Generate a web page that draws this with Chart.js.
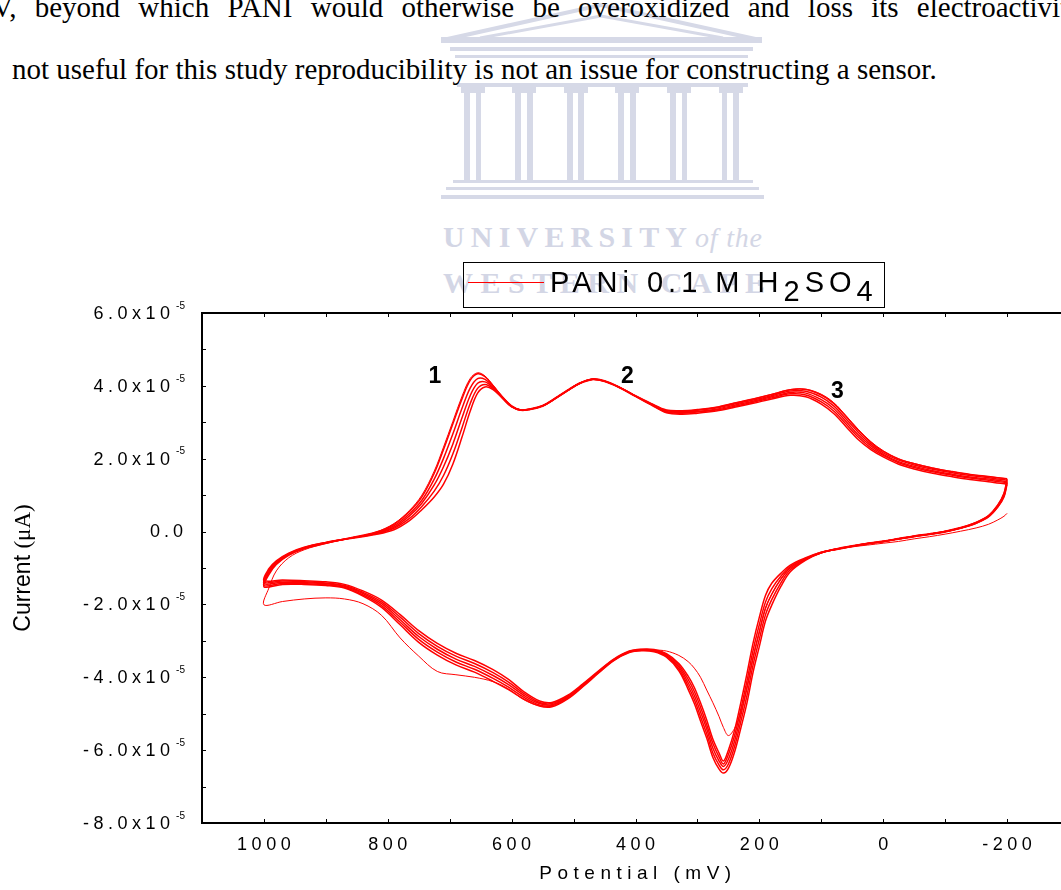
<!DOCTYPE html>
<html>
<head>
<meta charset="utf-8">
<script src="https://cdn.jsdelivr.net/npm/chart.js@4/dist/chart.umd.min.js"></script>
<style>
  html, body { margin: 0; padding: 0; background: #fff; overflow: hidden; }
  #page { position: relative; width: 1061px; height: 890px; overflow: hidden; }
  #crest, #cv { position: absolute; left: 0; top: 0; }
  #legend {
    position: absolute; left: 463px; top: 262px; width: 422px; height: 46px;
    border: 1px solid #000; box-sizing: border-box;
    font-family: "Liberation Sans", Arial, sans-serif; font-size: 29px; letter-spacing: 5px;
    white-space: nowrap;
  }
  #legend .swatch { position: absolute; left: 4px; top: 19px; width: 76px; height: 1px; background: #ff0000; }
  #legend .label { position: absolute; left: 86px; top: 3px; line-height: 32px; }
  #legend .sub { position: relative; top: 9px; }
</style>
</head>
<body>
<div id="page">
  <svg id="crest" width="1061" height="320" viewBox="0 0 1061 320">
    <g fill="none" stroke="#d6d9e7" stroke-width="4">
      <polyline points="443,40 601,5 760,40"/>
      <polyline points="480,38 601,16 723,38" stroke-width="3"/>
    </g>
    <g fill="#d6d9e7">
      <rect x="441" y="37" width="321" height="6"/>
      <rect x="450" y="47" width="303" height="4"/>
      <rect x="455" y="55" width="293" height="3"/>
      <rect x="457" y="83" width="291" height="4"/>
      <rect x="461" y="87" width="24" height="6"/>
      <rect x="512" y="87" width="24" height="6"/>
      <rect x="564" y="87" width="24" height="6"/>
      <rect x="615" y="87" width="24" height="6"/>
      <rect x="667" y="87" width="24" height="6"/>
      <rect x="719" y="87" width="24" height="6"/>
      <rect x="464" y="93" width="6" height="87"/><rect x="476" y="93" width="5" height="87"/>
      <rect x="515" y="93" width="6" height="87"/><rect x="527" y="93" width="6" height="87"/>
      <rect x="567" y="93" width="6" height="87"/><rect x="578" y="93" width="6" height="87"/>
      <rect x="618" y="93" width="6" height="87"/><rect x="630" y="93" width="6" height="87"/>
      <rect x="670" y="93" width="6" height="87"/><rect x="682" y="93" width="5" height="87"/>
      <rect x="722" y="93" width="5" height="87"/><rect x="733" y="93" width="6" height="87"/>
      <rect x="453" y="180" width="300" height="3"/>
      <rect x="446" y="187" width="313" height="3"/>
      <rect x="441" y="195" width="323" height="4"/>
    </g>
    <g fill="#d3d6e5" font-family="Liberation Serif, serif">
      <text x="443" y="247" font-size="30" font-weight="bold" textLength="244" lengthAdjust="spacing">UNIVERSITY</text>
      <text x="695" y="247" font-size="28" font-style="italic" textLength="67" lengthAdjust="spacing">of the</text>
      <text x="443" y="293" font-size="30" font-weight="bold" textLength="322" lengthAdjust="spacing">WESTERN CAPE</text>
    </g>
    <g fill="#000" font-family="Liberation Serif, serif" font-size="29">
      <text x="-8" y="17" word-spacing="11">V, beyond which PANI would otherwise be overoxidized and loss its electroactivity</text>
      <text x="12" y="79">not useful for this study reproducibility is not an issue for constructing a sensor.</text>
    </g>
  </svg>
  <canvas id="cv" width="1120" height="890"></canvas>
  <div id="legend">
    <div class="swatch"></div>
    <div class="label">PANi 0.1 M H<span class="sub">2</span>SO<span class="sub">4</span></div>
  </div>
</div>
<script>
// potential grids (mV): forward sweep -200 -> 1000, reverse sweep 1000 -> -200
var forwardPotential = [-200, -195, -185, -170, -150, -125, -100, -75, -50, -25, 0, 25, 50, 75, 100, 125, 150, 165, 180, 190, 200, 210, 220, 230, 240, 250, 258, 265, 275, 285, 295, 305, 315, 330, 350, 370, 390, 410, 435, 460, 485, 510, 535, 555, 580, 605, 630, 660, 690, 720, 750, 780, 810, 840, 870, 900, 935, 970, 1000];
var reversePotential = [1000, 992, 980, 960, 935, 900, 860, 820, 790, 765, 745, 725, 710, 695, 680, 667, 655, 643, 630, 615, 600, 585, 570, 550, 530, 510, 490, 470, 450, 425, 400, 375, 350, 325, 300, 270, 240, 210, 180, 150, 125, 100, 80, 60, 40, 20, 0, -25, -50, -80, -110, -140, -170, -200];

// current in units of 1e-5 A, one pair of arrays per cycle
var cycle1Forward = [0.50, 0.42, 0.32, 0.20, 0.10, 0.01, -0.07, -0.14, -0.20, -0.27, -0.32, -0.37, -0.42, -0.49, -0.59, -0.75, -1.00, -1.30, -1.72, -2.10, -2.75, -3.45, -4.25, -4.95, -5.40, -5.60, -5.38, -5.08, -4.70, -4.35, -4.00, -3.75, -3.57, -3.40, -3.28, -3.25, -3.25, -3.30, -3.52, -3.86, -4.22, -4.55, -4.76, -4.78, -4.62, -4.32, -4.12, -4.00, -3.93, -3.84, -3.42, -2.92, -2.30, -1.98, -1.85, -1.82, -1.85, -1.92, -2.01];
var cycle1Reverse = [-2.01, -1.55, -1.08, -0.72, -0.50, -0.33, -0.18, -0.02, 0.22, 0.58, 1.00, 1.66, 2.32, 3.02, 3.72, 4.20, 4.36, 4.27, 4.02, 3.71, 3.45, 3.34, 3.36, 3.45, 3.65, 3.87, 4.07, 4.18, 4.13, 3.95, 3.72, 3.50, 3.33, 3.31, 3.34, 3.41, 3.53, 3.64, 3.77, 3.90, 3.91, 3.77, 3.54, 3.18, 2.80, 2.47, 2.22, 2.00, 1.87, 1.75, 1.65, 1.57, 1.51, 1.45];

var cycle2Forward = [1.45, 1.05, 0.73, 0.44, 0.25, 0.11, 0.01, -0.06, -0.12, -0.19, -0.26, -0.32, -0.39, -0.47, -0.58, -0.78, -1.10, -1.50, -2.02, -2.45, -3.15, -3.85, -4.70, -5.40, -6.05, -6.50, -6.63, -6.52, -6.20, -5.67, -5.20, -4.72, -4.33, -3.82, -3.45, -3.30, -3.27, -3.32, -3.54, -3.89, -4.26, -4.60, -4.81, -4.79, -4.60, -4.34, -4.11, -3.86, -3.66, -3.39, -3.04, -2.56, -2.08, -1.77, -1.55, -1.48, -1.45, -1.45, -1.52];
var cycle2Reverse = [-1.52, -1.18, -0.90, -0.65, -0.47, -0.32, -0.17, -0.02, 0.20, 0.55, 0.95, 1.60, 2.25, 2.95, 3.65, 4.15, 4.33, 4.25, 4.00, 3.70, 3.45, 3.34, 3.37, 3.46, 3.66, 3.88, 4.08, 4.19, 4.14, 3.96, 3.73, 3.52, 3.34, 3.32, 3.35, 3.41, 3.53, 3.64, 3.76, 3.89, 3.90, 3.75, 3.52, 3.16, 2.78, 2.45, 2.20, 1.99, 1.86, 1.74, 1.65, 1.57, 1.51, 1.45];

var cycle3Forward = [1.41, 1.03, 0.72, 0.43, 0.25, 0.10, 0.00, -0.07, -0.13, -0.20, -0.27, -0.33, -0.40, -0.48, -0.58, -0.76, -1.05, -1.40, -1.87, -2.28, -2.95, -3.65, -4.50, -5.22, -5.90, -6.38, -6.54, -6.41, -6.08, -5.55, -5.08, -4.61, -4.24, -3.77, -3.42, -3.28, -3.26, -3.31, -3.53, -3.87, -4.24, -4.58, -4.78, -4.76, -4.55, -4.27, -4.03, -3.78, -3.58, -3.31, -2.96, -2.49, -2.03, -1.74, -1.53, -1.46, -1.43, -1.42, -1.48];
var cycle3Reverse = [-1.48, -1.14, -0.87, -0.63, -0.46, -0.31, -0.18, -0.04, 0.16, 0.49, 0.86, 1.44, 2.01, 2.68, 3.39, 3.94, 4.20, 4.18, 3.98, 3.69, 3.44, 3.34, 3.36, 3.45, 3.65, 3.87, 4.07, 4.18, 4.13, 3.95, 3.72, 3.51, 3.32, 3.30, 3.33, 3.39, 3.50, 3.61, 3.73, 3.86, 3.85, 3.69, 3.45, 3.09, 2.72, 2.40, 2.16, 1.96, 1.83, 1.71, 1.62, 1.54, 1.48, 1.41];

var cycle4Forward = [1.37, 1.00, 0.70, 0.42, 0.24, 0.10, 0.00, -0.07, -0.13, -0.20, -0.27, -0.33, -0.40, -0.48, -0.58, -0.75, -1.00, -1.30, -1.72, -2.10, -2.75, -3.45, -4.30, -5.05, -5.75, -6.25, -6.45, -6.30, -5.95, -5.42, -4.95, -4.50, -4.15, -3.72, -3.40, -3.27, -3.25, -3.30, -3.52, -3.86, -4.22, -4.55, -4.75, -4.72, -4.50, -4.20, -3.95, -3.70, -3.50, -3.23, -2.88, -2.42, -1.98, -1.70, -1.50, -1.43, -1.40, -1.39, -1.43];
var cycle4Reverse = [-1.43, -1.10, -0.85, -0.62, -0.45, -0.31, -0.18, -0.05, 0.12, 0.43, 0.78, 1.28, 1.78, 2.40, 3.13, 3.73, 4.07, 4.11, 3.95, 3.68, 3.44, 3.33, 3.36, 3.45, 3.65, 3.87, 4.07, 4.18, 4.13, 3.95, 3.72, 3.50, 3.30, 3.27, 3.30, 3.36, 3.47, 3.58, 3.70, 3.82, 3.80, 3.62, 3.38, 3.02, 2.65, 2.35, 2.12, 1.92, 1.79, 1.67, 1.58, 1.50, 1.44, 1.37];

var cycle5Forward = [1.34, 0.98, 0.68, 0.41, 0.23, 0.10, 0.00, -0.07, -0.13, -0.20, -0.27, -0.33, -0.40, -0.48, -0.57, -0.74, -0.96, -1.22, -1.57, -1.93, -2.55, -3.25, -4.10, -4.88, -5.60, -6.12, -6.38, -6.19, -5.82, -5.30, -4.82, -4.39, -4.06, -3.67, -3.38, -3.26, -3.24, -3.29, -3.51, -3.85, -4.20, -4.53, -4.72, -4.69, -4.45, -4.13, -3.87, -3.62, -3.42, -3.15, -2.80, -2.35, -1.93, -1.67, -1.48, -1.41, -1.38, -1.36, -1.39];
var cycle5Reverse = [-1.39, -1.06, -0.83, -0.61, -0.44, -0.30, -0.18, -0.06, 0.09, 0.36, 0.69, 1.11, 1.54, 2.13, 2.86, 3.51, 3.93, 4.04, 3.93, 3.67, 3.43, 3.33, 3.36, 3.45, 3.65, 3.87, 4.07, 4.18, 4.13, 3.95, 3.72, 3.49, 3.28, 3.25, 3.28, 3.34, 3.44, 3.55, 3.67, 3.78, 3.75, 3.56, 3.31, 2.95, 2.59, 2.30, 2.09, 1.89, 1.76, 1.64, 1.55, 1.47, 1.41, 1.34];

var cycle6Forward = [1.30, 0.95, 0.67, 0.40, 0.23, 0.09, -0.01, -0.08, -0.14, -0.21, -0.28, -0.34, -0.41, -0.49, -0.57, -0.72, -0.92, -1.14, -1.42, -1.75, -2.35, -3.05, -3.90, -4.70, -5.45, -6.00, -6.30, -6.08, -5.70, -5.17, -4.70, -4.28, -3.97, -3.62, -3.35, -3.24, -3.23, -3.28, -3.50, -3.83, -4.18, -4.50, -4.69, -4.65, -4.40, -4.06, -3.79, -3.54, -3.34, -3.07, -2.72, -2.28, -1.88, -1.63, -1.45, -1.38, -1.35, -1.33, -1.34];
var cycle6Reverse = [-1.34, -1.02, -0.80, -0.59, -0.43, -0.30, -0.19, -0.08, 0.05, 0.30, 0.60, 0.95, 1.30, 1.85, 2.60, 3.30, 3.80, 3.97, 3.90, 3.66, 3.42, 3.33, 3.35, 3.44, 3.64, 3.86, 4.06, 4.17, 4.12, 3.94, 3.71, 3.48, 3.26, 3.22, 3.25, 3.31, 3.41, 3.52, 3.64, 3.74, 3.70, 3.50, 3.24, 2.88, 2.52, 2.25, 2.05, 1.85, 1.72, 1.60, 1.51, 1.43, 1.37, 1.30];

// axis labels
var potentialTicks = [1000, 800, 600, 400, 200, 0, -200];
var currentTicks = [6, 4, 2, 0, -2, -4, -6, -8];

// peak numbers
var peakLabels = ["1", "2", "3"];
var peakPotential = [724, 413, 74];
var peakCurrent = [4.26, 4.26, 3.85];

var cycles = [
    [cycle1Forward, cycle1Reverse],
    [cycle2Forward, cycle2Reverse],
    [cycle3Forward, cycle3Reverse],
    [cycle4Forward, cycle4Reverse],
    [cycle5Forward, cycle5Reverse],
    [cycle6Forward, cycle6Reverse]
];

function cyclePoints(fwd, rev) {
    var pts = fwd.map(function (c, i) { return { x: forwardPotential[i], y: c }; });
    // reverse sweep starts at the vertex already pushed above
    rev.forEach(function (c, i) { if (i > 0) pts.push({ x: reversePotential[i], y: c }); });
    return pts;
}

var SANS = '"Liberation Sans", Arial, sans-serif';
var SERIF = '"Liberation Serif", "Times New Roman", serif';

var frameAndText = {
    id: 'frameAndText',
    afterDraw: function (chart) {
        var ctx = chart.ctx, a = chart.chartArea, xs = chart.scales.x, ys = chart.scales.y;
        ctx.save();
        ctx.strokeStyle = '#000';
        ctx.lineWidth = 2;
        ctx.strokeRect(a.left, a.top, a.right - a.left, a.bottom - a.top);

        // small inside ticks, every 100 mV and every 1e-5 A
        ctx.lineWidth = 1;
        ctx.beginPath();
        for (var v = xs.min; v <= xs.max; v += 100) {
            var px = Math.round(xs.getPixelForValue(v)) + 0.5;
            ctx.moveTo(px, a.bottom); ctx.lineTo(px, a.bottom - 4);
            ctx.moveTo(px, a.top); ctx.lineTo(px, a.top + 4);
        }
        for (var w = ys.min; w <= ys.max; w += 1) {
            var py = Math.round(ys.getPixelForValue(w)) + 0.5;
            ctx.moveTo(a.left, py); ctx.lineTo(a.left + 4, py);
            ctx.moveTo(a.right, py); ctx.lineTo(a.right - 4, py);
        }
        ctx.stroke();

        ctx.fillStyle = '#000';
        // x tick labels
        ctx.font = '18px ' + SANS;
        ctx.letterSpacing = '4.5px';
        ctx.textAlign = 'center';
        ctx.textBaseline = 'alphabetic';
        potentialTicks.forEach(function (t) {
            ctx.fillText(String(t), xs.getPixelForValue(t) + 2.2, a.bottom + 27);
        });

        // y tick labels with exponent
        currentTicks.forEach(function (t) {
            var py = ys.getPixelForValue(t);
            ctx.textAlign = 'right';
            ctx.textBaseline = 'middle';
            if (t === 0) {
                ctx.font = '18px ' + SANS;
                ctx.letterSpacing = '4px';
                ctx.fillText('0.0', 187, py);
                return;
            }
            ctx.font = '10px ' + SANS;
            ctx.letterSpacing = '0px';
            ctx.fillText('-5', 185, py - 7);
            ctx.font = '18px ' + SANS;
            ctx.letterSpacing = '4.5px';
            ctx.fillText(t.toFixed(1) + 'x10', 174.5, py + 1);
        });

        // axis titles
        ctx.textBaseline = 'alphabetic';
        ctx.font = '19px ' + SANS;
        ctx.letterSpacing = '5.5px';
        ctx.textAlign = 'center';
        ctx.fillText('Potential (mV)', 638, 879);

        ctx.save();
        ctx.translate(30, (a.top + a.bottom) / 2);
        ctx.rotate(-Math.PI / 2);
        ctx.letterSpacing = '0px';
        ctx.textAlign = 'left';
        ctx.font = '23px ' + SANS;
        var w1 = ctx.measureText('Current ').width;
        ctx.font = '23px ' + SERIF;
        var w2 = ctx.measureText('(\u03bcA)').width;
        var x0 = -(w1 + w2) / 2;
        ctx.font = '23px ' + SANS;
        ctx.fillText('Current ', x0, 0);
        ctx.font = '23px ' + SERIF;
        ctx.fillText('(\u03bcA)', x0 + w1, 0);
        ctx.restore();

        // peak numbers
        ctx.font = 'bold 23px ' + SANS;
        ctx.letterSpacing = '0px';
        ctx.textAlign = 'center';
        ctx.textBaseline = 'middle';
        peakLabels.forEach(function (s, i) {
            ctx.fillText(s, xs.getPixelForValue(peakPotential[i]), ys.getPixelForValue(peakCurrent[i]));
        });
        ctx.restore();
    }
};

new Chart(document.getElementById('cv').getContext('2d'), {
    type: 'line',
    data: {
        datasets: cycles.map(function (c, k) {
            return {
                data: cyclePoints(c[0], c[1]),
                borderColor: '#ff0000',
                borderWidth: k === 0 ? 1 : 1.5,
                pointRadius: 0,
                fill: false,
                tension: 0.35
            };
        })
    },
    options: {
        responsive: false,
        devicePixelRatio: 1,
        animation: false,
        events: [],
        layout: { padding: { left: 202, top: 313, right: 51, bottom: 67 } },
        plugins: { legend: { display: false }, tooltip: { enabled: false } },
        scales: {
            x: { type: 'linear', reverse: true, min: -300, max: 1100, display: false },
            y: { type: 'linear', min: -8, max: 6, display: false }
        }
    },
    plugins: [frameAndText]
});
</script>
</body>
</html>
